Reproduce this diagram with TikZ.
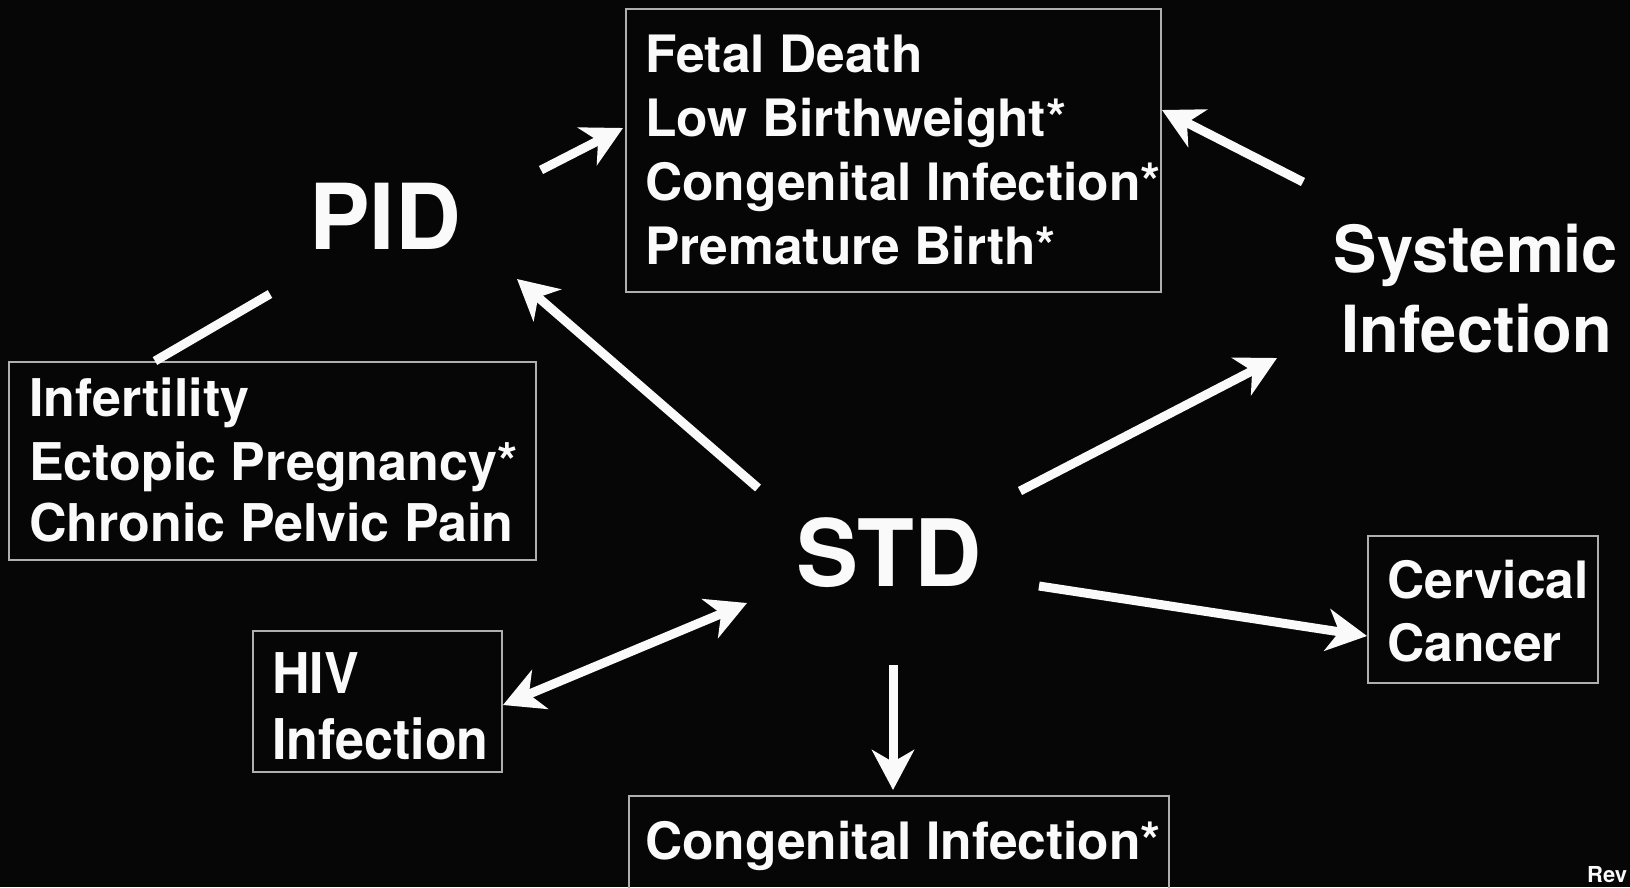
\documentclass[tikz,border=0pt]{standalone}
\usepackage{fontspec}
\setmainfont{TeX Gyre Heros}
\usetikzlibrary{arrows.meta}
\definecolor{bg}{RGB}{6,6,6}
\definecolor{fg}{RGB}{250,250,250}
\definecolor{frame}{RGB}{175,175,175}
\begin{document}
\begin{tikzpicture}[x=1pt,y=-1pt,
  lbl/.style={text=fg, inner sep=0pt, anchor=base west, font=\bfseries\fontsize{51.5}{51.5}\selectfont},
  big/.style={text=fg, inner sep=0pt, anchor=base, font=\bfseries\fontsize{91}{91}\selectfont},
  mid/.style={text=fg, inner sep=0pt, anchor=base, font=\bfseries\fontsize{65}{65}\selectfont},
  boxst/.style={draw=frame, line width=1.8pt, fill=none, inner sep=0pt, anchor=north west},
  arr/.style={draw=fg, line width=9pt, -{Stealth[length=40pt,width=42pt,inset=12pt]}},
  darr/.style={draw=fg, line width=9pt, {Stealth[length=40pt,width=42pt,inset=12pt]}-{Stealth[length=40pt,width=42pt,inset=12pt]}},
  link/.style={draw=fg, line width=9pt}]
\fill[bg] (0,0) rectangle (1630,887);
\useasboundingbox (0,0) rectangle (1630,887);

% boxes
\node[boxst, minimum width=535pt, minimum height=283pt] (fetalbox) at (625,8) {};
\node[boxst, minimum width=527pt, minimum height=198pt] (pidbox) at (8,361) {};
\node[boxst, minimum width=249pt, minimum height=141pt] (hivbox) at (252,630) {};
\node[boxst, minimum width=230pt, minimum height=147pt] (cervbox) at (1367,535) {};
\node[boxst, minimum width=540pt, minimum height=120pt] (congbox) at (628,795) {};

% texts
\node[lbl] (f1) at (645,72) {Fetal Death};
\node[lbl] (f2) at (645,136) {Low Birthweight*};
\node[lbl] (f3) at (645,200) {Congenital Infection*};
\node[lbl] (f4) at (645,264) {Premature Birth*};

\node[lbl, font=\bfseries\fontsize{52}{52}\selectfont] (p1) at (29,416) {Infertility};
\node[lbl, font=\bfseries\fontsize{52}{52}\selectfont] (p2) at (29,480) {Ectopic Pregnancy*};
\node[lbl, font=\bfseries\fontsize{52}{52}\selectfont] (p3) at (29,541) {Chronic Pelvic Pain};

\node[lbl, font=\bfseries\fontsize{52}{52}\selectfont, yscale=1.08] (h1) at (272,693) {HIV};
\node[lbl, font=\bfseries\fontsize{52}{52}\selectfont, yscale=1.08] (h2) at (272,759) {Infection};

\node[lbl] (c1) at (1387,598) {Cervical};
\node[lbl] (c2) at (1387,661) {Cancer};

\node[lbl] (g1) at (645,859) {Congenital Infection*};

\node[big] (pid) at (385,249) {PID};
\node[big, font=\bfseries\fontsize{93}{93}\selectfont] (std) at (889,586) {STD};
\node[mid] (sys1) at (1476,272) {Systemic};
\node[mid] (sys2) at (1477,352) {Infection};

\node[lbl, font=\bfseries\fontsize{22}{22}\selectfont] (rev) at (1587,882) {Rev};

% connector end points
\coordinate (a1s) at (541,170); \coordinate (a1e) at (623,128);
\coordinate (a2s) at (1303,182); \coordinate (a2e) at (1162,110);
\coordinate (a3s) at (758,488); \coordinate (a3e) at (517,279);
\coordinate (a4s) at (1020,491); \coordinate (a4e) at (1277,358);
\coordinate (a5s) at (1039,586); \coordinate (a5e) at (1367,636);
\coordinate (a6s) at (893,665); \coordinate (a6e) at (893,790);
\coordinate (a7s) at (503,705); \coordinate (a7e) at (747,603);
\coordinate (l1s) at (270,294); \coordinate (l1e) at (155,361);

\draw[arr] (a1s) -- (a1e);
\draw[arr] (a2s) -- (a2e);
\draw[arr] (a3s) -- (a3e);
\draw[arr] (a4s) -- (a4e);
\draw[arr] (a5s) -- (a5e);
\draw[arr] (a6s) -- (a6e);
\draw[darr] (a7s) -- (a7e);
\draw[link] (l1s) -- (l1e);
\end{tikzpicture}
\end{document}
